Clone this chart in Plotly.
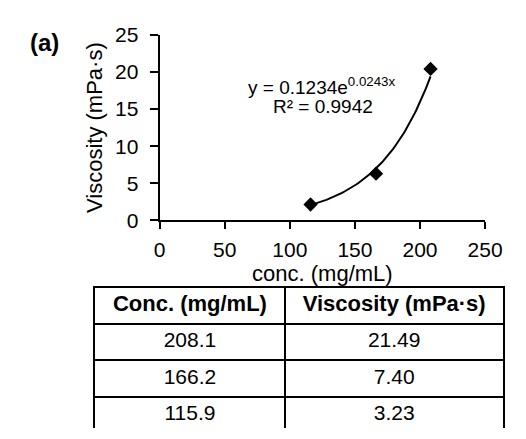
import numpy as np
import plotly.graph_objects as go

# ---- data ----
conc_plot = [115.9, 166.2, 208.1]          # x of plotted points
visc_plot = [2.15, 6.3, 20.4]              # y of plotted points
fit_a, fit_b = 0.1234, 0.0243              # trendline y = a*exp(b*x)
r2 = 0.9942
table_header = ["Conc. (mg/mL)", "Viscosity (mPa·s)"]
table_conc = ["208.1", "166.2", "115.9"]
table_visc = ["21.49", "7.40", "3.23"]
x_ticks = [0, 50, 100, 150, 200, 250]
y_ticks = [0, 5, 10, 15, 20, 25]

W, H = 526, 439
FONT = "Liberation Sans, Arial, sans-serif"

def px(x):
    return x / W

def py(y):
    return 1 - y / H

# ---- chart ----
xfit = np.linspace(min(conc_plot), max(conc_plot), 100)
yfit = fit_a * np.exp(fit_b * xfit)

fig = go.Figure()
fig.add_trace(go.Scatter(x=xfit, y=yfit, mode="lines",
                         line=dict(color="black", width=2), showlegend=False))
fig.add_trace(go.Scatter(x=conc_plot, y=visc_plot, mode="markers",
                         marker=dict(symbol="diamond", color="black", size=11),
                         showlegend=False))

# ---- table drawn on its own axes (x in pixel units, y in row index) ----
col_widths = [199.5, 228.5]
col_edges = [0, col_widths[0], col_widths[0] + col_widths[1]]
col_centers = [(col_edges[i] + col_edges[i + 1]) / 2 for i in range(2)]
row_px = 38.3
tbl_left_px = 93
tbl_right_px = 93 + col_edges[-1]
tbl_top_px = 291
y_top = -0.5
y_bottom = y_top + (H - tbl_top_px) / row_px

fig.add_trace(go.Scatter(
    x=col_centers, y=[0, 0], mode="text",
    text=[f"<b>{h}</b>" for h in table_header],
    textposition="middle center",
    textfont=dict(family=FONT, size=22, color="black"),
    xaxis="x2", yaxis="y2", showlegend=False, hoverinfo="skip"))
body_x, body_y, body_t = [], [], []
for i, (c, v) in enumerate(zip(table_conc, table_visc)):
    body_x += col_centers
    body_y += [i + 1, i + 1]
    body_t += [c, v]
fig.add_trace(go.Scatter(
    x=body_x, y=body_y, mode="text", text=body_t,
    textposition="middle center",
    textfont=dict(family=FONT, size=21, color="black"),
    xaxis="x2", yaxis="y2", showlegend=False, hoverinfo="skip"))

fig.update_layout(
    width=W, height=H, margin=dict(l=0, r=0, t=0, b=0),
    paper_bgcolor="white", plot_bgcolor="white",
    font=dict(family=FONT, size=21, color="black"),
    xaxis=dict(domain=[px(161), px(502)], range=[0, 250], tickvals=x_ticks,
               showline=True, linecolor="black", linewidth=2,
               ticks="outside", ticklen=7, tickwidth=2, tickcolor="black",
               ticklabelstandoff=2,
               showgrid=False, zeroline=False,
               tickfont=dict(size=21),
               title=dict(text="conc. (mg/mL)", font=dict(size=22), standoff=0)),
    yaxis=dict(domain=[py(220), py(24)], range=[0, 25], tickvals=y_ticks,
               showline=True, linecolor="black", linewidth=2,
               ticks="outside", ticklen=8, tickwidth=2, tickcolor="black",
               ticklabelstandoff=7,
               showgrid=False, zeroline=False,
               tickfont=dict(size=21),
               title=dict(text="Viscosity (mPa·s)", font=dict(size=22), standoff=6)),
    xaxis2=dict(domain=[px(tbl_left_px), px(tbl_right_px)],
                range=[col_edges[0], col_edges[-1]], side="top",
                anchor="y2", tickvals=col_edges, showticklabels=False,
                ticks="", showgrid=True, gridcolor="black", gridwidth=2,
                zeroline=False, showline=True, linecolor="black", linewidth=2,
                mirror=False, fixedrange=True),
    yaxis2=dict(domain=[0, py(tbl_top_px)], range=[y_bottom, y_top],
                anchor="x2", tickvals=[0.5, 1.5, 2.5], showticklabels=False,
                ticks="", showgrid=True, gridcolor="black", gridwidth=2,
                zeroline=False, showline=True, linecolor="black", linewidth=2,
                mirror=True, fixedrange=True),
    annotations=[
        dict(text="<b>(a)</b>", x=px(23), y=py(32), xref="paper", yref="paper",
             xanchor="left", yanchor="middle", showarrow=False,
             font=dict(size=24, color="black")),
        dict(text=f"y = {fit_a}e<sup>{fit_b}x</sup>", x=px(331), y=py(78),
             xref="paper", yref="paper", xanchor="center", yanchor="middle",
             showarrow=False, font=dict(size=19, color="black")),
        dict(text=f"R² = {r2}", x=px(332), y=py(100),
             xref="paper", yref="paper", xanchor="center", yanchor="middle",
             showarrow=False, font=dict(size=19, color="black")),
    ],
)

fig.write_html("out.html")
